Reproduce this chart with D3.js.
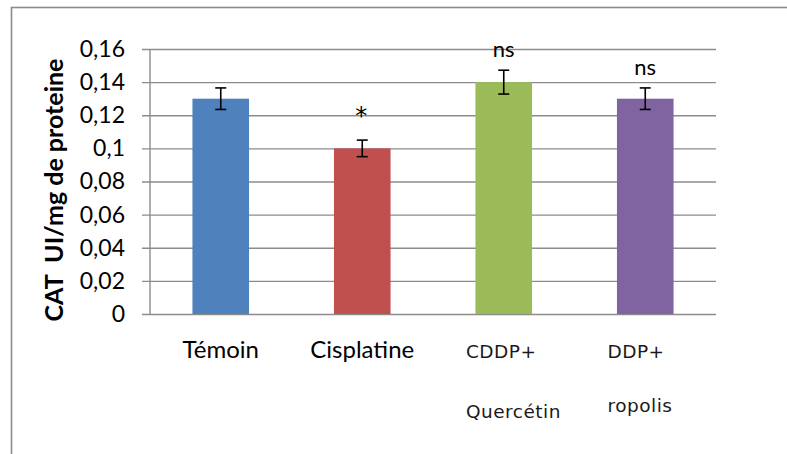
<!DOCTYPE html>
<html>
<head>
<meta charset="utf-8">
<script src="https://cdn.jsdelivr.net/npm/d3@7"></script>
<style>
  html, body { margin: 0; padding: 0; background: #ffffff; }
  svg { display: block; }
</style>
</head>
<body>
<div id="chart"></div>
<script>
// Catalase activity per group
const categories = ["Témoin", "Cisplatine", "CDDP+\nQuercétin", "DDP+\nropolis"];
const values = [0.13, 0.10, 0.14, 0.13];
const errors = [0.0065, 0.005, 0.0072, 0.0065];
const significance = ["", "*", "ns", "ns"];
const colors = ["#4f81bd", "#c0504d", "#9bbb59", "#8064a2"];
const tickValues = [0, 0.02, 0.04, 0.06, 0.08, 0.1, 0.12, 0.14, 0.16];
const tickLabels = ["0", "0,02", "0,04", "0,06", "0,08", "0,1", "0,12", "0,14", "0,16"];

const W = 787, H = 454;
const plot = { left: 150, right: 716, top: 49, bottom: 314 };
const mainFont = "Lato, 'Open Sans', sans-serif";
const altFont = "'DejaVu Sans', Verdana, sans-serif";

const svg = d3.select("#chart").append("svg")
  .attr("width", W).attr("height", H);

// outer frame of the chart area
svg.append("rect")
  .attr("x", 11.5).attr("y", 7.5)
  .attr("width", 800).attr("height", 460)
  .attr("fill", "#ffffff")
  .attr("stroke", "#8a8a8a").attr("stroke-width", 1.6);

const x = d3.scaleBand()
  .domain(categories)
  .range([plot.left, plot.right])
  .paddingInner(0.6).paddingOuter(0.3);

const y = d3.scaleLinear()
  .domain([0, 0.16])
  .range([plot.bottom, plot.top]);

// y axis with gridlines
const yAxis = d3.axisLeft(y)
  .tickValues(tickValues)
  .tickFormat((d, i) => tickLabels[i])
  .tickSize(-(plot.right - plot.left) - 8)
  .tickPadding(17);

const yg = svg.append("g")
  .attr("transform", `translate(${plot.left - 8},0)`)
  .call(yAxis);
yg.select(".domain").remove();
yg.selectAll(".tick line")
  .attr("stroke", "#8c8c8c").attr("stroke-width", 1.4);
yg.selectAll(".tick text")
  .attr("fill", "#000")
  .style("font-family", mainFont)
  .style("font-size", "23px");

// vertical axis line
svg.append("line")
  .attr("x1", plot.left).attr("x2", plot.left)
  .attr("y1", plot.top).attr("y2", plot.bottom)
  .attr("stroke", "#8c8c8c").attr("stroke-width", 1.4);

// bars
svg.append("g").selectAll("rect")
  .data(categories)
  .join("rect")
  .attr("x", d => x(d))
  .attr("y", (d, i) => y(values[i]))
  .attr("width", x.bandwidth())
  .attr("height", (d, i) => y(0) - y(values[i]))
  .attr("fill", (d, i) => colors[i]);

// error bars
const eg = svg.append("g").attr("stroke", "#000").attr("stroke-width", 1.6);
categories.forEach((c, i) => {
  const cx = x(c) + x.bandwidth() / 2;
  const yHi = y(values[i] + errors[i]);
  const yLo = y(values[i] - errors[i]);
  eg.append("line").attr("x1", cx).attr("x2", cx).attr("y1", yHi).attr("y2", yLo);
  eg.append("line").attr("x1", cx - 5.5).attr("x2", cx + 5.5).attr("y1", yHi).attr("y2", yHi);
  eg.append("line").attr("x1", cx - 5.5).attr("x2", cx + 5.5).attr("y1", yLo).attr("y2", yLo);
});

// significance marks above the error bars
svg.append("g").selectAll("text")
  .data(categories)
  .join("text")
  .attr("x", (d, i) => x(d) + x.bandwidth() / 2 - (significance[i] === "*" ? 1 : 0))
  .attr("y", (d, i) => y(values[i] + errors[i]) - (significance[i] === "*" ? 16 : 13))
  .attr("text-anchor", "middle")
  .style("font-family", (d, i) => significance[i] === "*" ? altFont : mainFont)
  .style("font-size", (d, i) => significance[i] === "*" ? "24px" : "22px")
  .attr("fill", "#000")
  .text((d, i) => significance[i]);

// category labels
const lg = svg.append("g");
categories.forEach((c, i) => {
  const lines = c.split("\n");
  const cx = x(c) + x.bandwidth() / 2;
  if (lines.length === 1) {
    lg.append("text")
      .attr("x", cx).attr("y", 358)
      .attr("text-anchor", "middle")
      .style("font-family", mainFont)
      .style("font-size", "24px")
      .attr("fill", "#000")
      .text(lines[0]);
  } else {
    const left = x(c) - 9.5;
    lines.forEach((t, j) => {
      lg.append("text")
        .attr("x", left).attr("y", j === 0 ? 358 : (i === 2 ? 418 : 412))
        .style("font-family", altFont)
        .style("font-size", "18.5px")
        .style("letter-spacing", "0.5px")
        .attr("fill", "#1a1a1a")
        .text(t);
    });
  }
});

// y axis title
svg.append("text")
  .attr("transform", "translate(63,190) rotate(-90)")
  .attr("text-anchor", "middle")
  .style("font-family", mainFont)
  .style("font-size", "25px")
  .style("font-weight", "bold")
  .style("white-space", "pre")
  .attr("fill", "#000")
  .text("CAT  UI/mg de proteine");
</script>
</body>
</html>
